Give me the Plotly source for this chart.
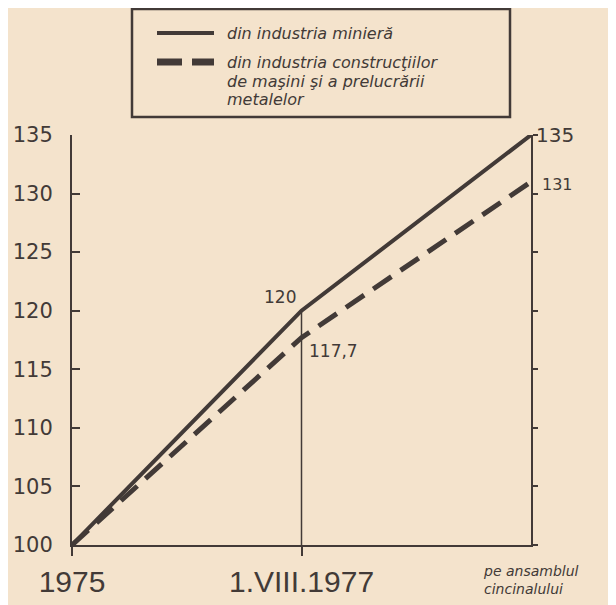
import plotly.graph_objects as go

categories = ["1975", "1.VIII.1977", "pe ansamblul<br>cincinalului"]
minerit = [100, 120, 135]
constructii = [100, 117.7, 131]
series_lines = [
    ["din industria minieră"],
    ["din industria construcţiilor", "de maşini şi a prelucrării", "metalelor"],
]
y_ticks = [100, 105, 110, 115, 120, 125, 130, 135]

INK = "#423a37"
BG = "#f4e3cc"
HAND = "DejaVu Sans, Verdana, sans-serif"
NARROW = "Liberation Sans, Arial, sans-serif"

def fmt(v):
    return (f"{v:.1f}".replace(".", ",")) if v != int(v) else str(int(v))

xi = list(range(len(categories)))

fig = go.Figure()
fig.add_trace(go.Scatter(x=[xi[1], xi[1]], y=[y_ticks[0], minerit[1]], mode="lines",
                         line=dict(color=INK, width=1.5), showlegend=False, hoverinfo="skip"))
fig.add_trace(go.Scatter(x=xi, y=minerit, mode="lines", name=series_lines[0][0],
                         line=dict(color=INK, width=4), showlegend=False))
fig.add_trace(go.Scatter(x=xi, y=constructii, mode="lines", name=" ".join(series_lines[1]),
                         line=dict(color=INK, width=5, dash="22px,11px"), showlegend=False))
fig.add_trace(go.Scatter(x=[xi[-1]], y=[y_ticks[0]], yaxis="y2", mode="markers",
                         marker=dict(opacity=0), showlegend=False, hoverinfo="skip"))

# data labels
fig.add_annotation(x=xi[1], y=minerit[1], text=fmt(minerit[1]), showarrow=False,
                   xanchor="right", yanchor="bottom", xshift=-4, yshift=2,
                   font=dict(family=HAND, size=17, color=INK))
fig.add_annotation(x=xi[1], y=constructii[1], text=fmt(constructii[1]), showarrow=False,
                   xanchor="left", yanchor="top", xshift=5, yshift=-1,
                   font=dict(family=HAND, size=17, color=INK))
fig.add_annotation(x=xi[2], y=minerit[2], text=fmt(minerit[2]), showarrow=False,
                   xanchor="left", yanchor="middle", xshift=3,
                   font=dict(family=HAND, size=20, color=INK))
fig.add_annotation(x=xi[2], y=constructii[2], text=fmt(constructii[2]), showarrow=False,
                   xanchor="left", yanchor="middle", xshift=9, yshift=-3,
                   font=dict(family=HAND, size=16, color=INK))
# third category label
fig.add_annotation(x=xi[2], y=0, yref="paper", text=categories[2], showarrow=False,
                   xanchor="center", yanchor="top", yshift=-16, xshift=0,
                   align="left",
                   font=dict(family=HAND, size=14, color=INK, style="italic"))

# ---- hand-built legend (paper coordinates; plot area 459 x 410 px) ----
W, H = 459.0, 410.0
def px(sx):  # screen x -> paper
    return (sx - 72) / W
def py(sy):  # screen y -> paper
    return (545 - sy) / H

fig.add_shape(type="rect", xref="paper", yref="paper",
              x0=px(132), x1=px(510), y0=py(117), y1=py(9),
              line=dict(color=INK, width=2.5), fillcolor=BG, layer="above")
fig.add_shape(type="line", xref="paper", yref="paper",
              x0=px(157), x1=px(214), y0=py(33), y1=py(33),
              line=dict(color=INK, width=4))
fig.add_shape(type="line", xref="paper", yref="paper",
              x0=px(157), x1=px(214), y0=py(62), y1=py(62),
              line=dict(color=INK, width=7, dash="25px,10px"))
line_y = [[33], [62, 81, 100]]
for lines, ys in zip(series_lines, line_y):
    for txt, yy in zip(lines, ys):
        fig.add_annotation(xref="paper", yref="paper", x=px(225), y=py(yy), text=txt,
                           showarrow=False, xanchor="left", yanchor="middle",
                           font=dict(family=HAND, size=16, color=INK, style="italic"))

fig.update_layout(
    width=616, height=605,
    margin=dict(l=64, r=93, t=127, b=68, autoexpand=False),
    paper_bgcolor=BG, plot_bgcolor=BG,
    xaxis=dict(range=[0, 2], tickvals=xi[:2], ticktext=categories[:2], showgrid=False,
               zeroline=False, automargin=False,
               showline=True, linecolor=INK, linewidth=2, ticks="outside", ticklen=9,
               tickwidth=2, tickcolor=INK,
               tickfont=dict(family=NARROW, size=30, color=INK)),
    yaxis=dict(range=[100, 135], tickvals=y_ticks, showgrid=False, zeroline=False,
               automargin=False,
               showline=True, linecolor=INK, linewidth=2, ticks="inside", ticklen=8,
               tickwidth=1.5, tickcolor=INK, ticklabelstandoff=13,
               tickfont=dict(family=HAND, size=21, color=INK)),
    yaxis2=dict(range=[100, 135], tickvals=y_ticks, overlaying="y", side="right",
                automargin=False,
                showgrid=False, zeroline=False, showline=True, linecolor=INK, linewidth=2,
                ticks="outside", ticklen=5, tickwidth=1.5, tickcolor=INK,
                showticklabels=False),
    showlegend=False,
)

fig.write_html("out.html")
